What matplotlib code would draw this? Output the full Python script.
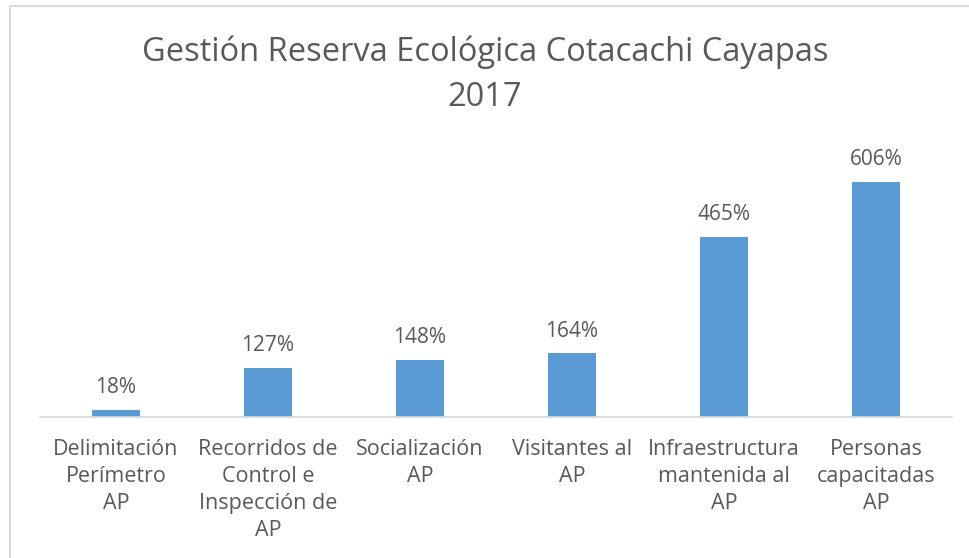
import matplotlib
matplotlib.use("Agg")
import matplotlib.pyplot as plt
from matplotlib.patches import Rectangle

categories = ["Delimitación\nPerímetro\nAP", "Recorridos de\nControl e\nInspección de\nAP",
              "Socialización\nAP", "Visitantes al\nAP", "Infraestructura\nmantenida al\nAP",
              "Personas\ncapacitadas\nAP"]
values = [18, 127, 148, 164, 465, 606]
value_labels = ["18%", "127%", "148%", "164%", "465%", "606%"]
title = "Gestión Reserva Ecológica Cotacachi Cayapas\n2017"

plt.rcParams['font.family'] = ['Open Sans', 'DejaVu Sans']
W, H = 970, 558
fig = plt.figure(figsize=(W/100, H/100), dpi=100)
fig.patch.set_facecolor("white")

fig.add_artist(Rectangle((10/W, -0.1), 1.2, (H-6)/H + 0.1, transform=fig.transFigure,
                         fill=False, edgecolor="#d9d9d9", linewidth=1.5))

left, right = 40/W, 952/W
bottom = (H-417)/H
top = (H-145.4)/H
ax = fig.add_axes([left, bottom, right-left, top-bottom])
x = list(range(len(values)))
ax.bar(x, values, width=0.31, color="#5b9bd5", zorder=2)
ax.set_xlim(-0.5, len(values)-0.5)
ax.set_ylim(0, 700)
for s in ["top", "right", "left"]:
    ax.spines[s].set_visible(False)
ax.spines["bottom"].set_color("#d9d9d9")
ax.spines["bottom"].set_linewidth(1.2)
ax.set_yticks([])
ax.set_xticks(x)
ax.set_xticklabels(categories, fontsize=15.5, color="#595959", linespacing=1.36)
ax.tick_params(axis="x", length=0, pad=16)
for xi, v, lab in zip(x, values, value_labels):
    ax.annotate(lab, (xi, v), xytext=(0, 8.5), textcoords="offset points",
                ha="center", va="bottom", fontsize=15, color="#595959")

fig.text(0.5, (H-75)/H, title, ha="center", va="center", fontsize=23.5,
         color="#595959", linespacing=1.48)

fig.savefig("out.png", dpi=100)
